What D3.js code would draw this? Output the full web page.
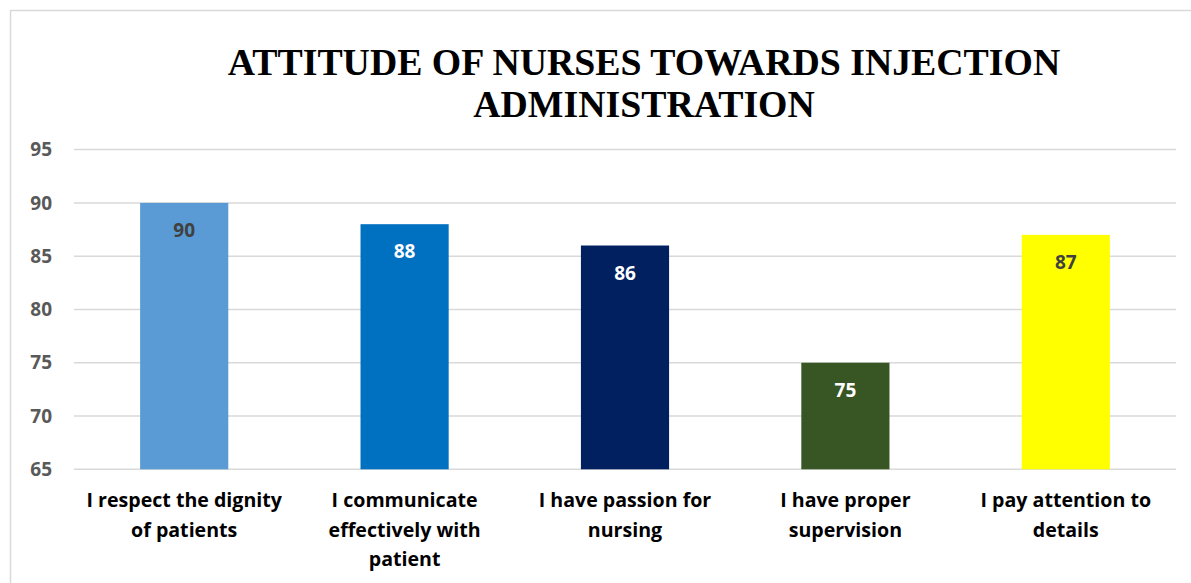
<!DOCTYPE html>
<html><head><meta charset="utf-8">
<script src="https://cdn.jsdelivr.net/npm/d3@7"></script>
<style>body{margin:0;background:#fff;}svg{display:block;}</style>
</head><body>
<script>
const categories = [["I respect the dignity","of patients"],["I communicate","effectively with","patient"],["I have passion for","nursing"],["I have proper","supervision"],["I pay attention to","details"]];
const values = [90, 88, 86, 75, 87];
const barColors = ["#5B9BD5", "#0070C0", "#002060", "#375623", "#FFFF00"];
const labelColors = ["#404040", "#ffffff", "#ffffff", "#ffffff", "#404040"];
const yTicks = [65, 70, 75, 80, 85, 90, 95];
const titleLines = ["ATTITUDE OF NURSES TOWARDS INJECTION", "ADMINISTRATION"];

const W = 1191, H = 583;
const svg = d3.select("body").append("svg").attr("width", W).attr("height", H);
svg.append("rect").attr("x", 10.5).attr("y", 10.5).attr("width", W + 10).attr("height", H + 10)
  .attr("fill", "#fff").attr("stroke", "#d9d9d9").attr("stroke-width", 1.5);

const x = d3.scaleBand().domain(d3.range(values.length)).range([74, 1176]).paddingInner(0.6).paddingOuter(0.3);
const y = d3.scaleLinear().domain([65, 95]).range([469.3, 149.6]);

svg.append("g").selectAll("line").data(yTicks).join("line")
  .attr("x1", 74).attr("x2", 1176).attr("y1", d => y(d)).attr("y2", d => y(d))
  .attr("stroke", "#d9d9d9").attr("stroke-width", 1.5);

svg.append("g").selectAll("text").data(yTicks).join("text")
  .attr("x", 52).attr("y", d => y(d)).attr("dy", "0.35em").attr("text-anchor", "end")
  .attr("font-family", "'Open Sans', sans-serif").attr("font-weight", "bold").attr("font-size", 19)
  .attr("fill", "#595959").text(d => d);

svg.append("g").selectAll("rect").data(values).join("rect")
  .attr("x", (d, i) => x(i)).attr("width", x.bandwidth())
  .attr("y", d => y(d)).attr("height", d => y(65) - y(d))
  .attr("fill", (d, i) => barColors[i]);

svg.append("g").selectAll("text").data(values).join("text")
  .attr("x", (d, i) => x(i) + x.bandwidth() / 2).attr("y", d => y(d) + 34)
  .attr("text-anchor", "middle")
  .attr("font-family", "'Open Sans', sans-serif").attr("font-weight", "bold").attr("font-size", 19)
  .attr("fill", (d, i) => labelColors[i]).text(d => d);

const cat = svg.append("g").selectAll("text").data(categories).join("text")
  .attr("x", (d, i) => x(i) + x.bandwidth() / 2).attr("y", 507)
  .attr("text-anchor", "middle")
  .attr("font-family", "'Open Sans', sans-serif").attr("font-weight", "bold").attr("font-size", 19.6)
  .attr("fill", "#000");
cat.each(function(d, i) {
  const t = d3.select(this);
  const cx = x(i) + x.bandwidth() / 2;
  d.forEach((line, k) => t.append("tspan").attr("x", cx).attr("dy", k === 0 ? 0 : 29.5).text(line));
});

svg.append("text").attr("x", 644).attr("y", 75).attr("text-anchor", "middle")
  .attr("font-family", "'Liberation Serif', serif").attr("font-weight", "bold").attr("font-size", 37.8)
  .attr("fill", "#000")
  .selectAll("tspan").data(titleLines).join("tspan")
  .attr("x", 644).attr("dy", (d, i) => i === 0 ? 0 : 42).text(d => d);
</script>
</body></html>
